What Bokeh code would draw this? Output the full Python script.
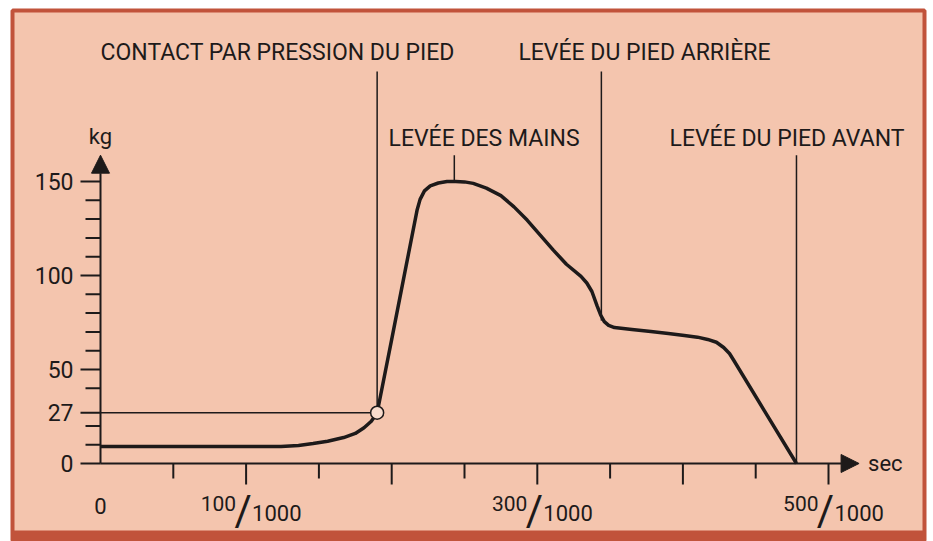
import numpy as np
from bokeh.plotting import figure
from bokeh.models import Range1d, Arrow, NormalHead, BoxAnnotation
from bokeh.core.properties import value
from bokeh.embed import file_html
from bokeh.resources import INLINE

# ---------------- data ----------------
time_ms = [0, 60, 124, 136, 146, 156, 167, 175, 181, 186, 190, 200, 210, 217.5, 219.5,
           222.5, 226.5, 232, 238, 244, 250, 256, 265, 275, 284, 293, 302, 311, 320, 330,
           334, 337.5, 341, 343.5, 346, 349, 353, 365, 378, 390, 401, 410, 417, 423, 428,
           432, 435, 456, 478]
force_kg = [9, 9, 9, 9.6, 10.6, 11.8, 13.8, 16, 19, 22.5, 27, 66, 105.5, 135, 140.5,
            145, 147.7, 149.2, 150, 150, 149.8, 149, 146.5, 142.5, 136.5, 129.5, 121.5,
            113.5, 106, 99.5, 96, 91.5, 84, 79, 75.5, 73.5, 72.3, 71.3, 70.2, 69.2, 68.1,
            67.2, 66, 64.5, 61.7, 58.5, 54.8, 28, 0]

y_major_ticks = [0, 27, 50, 100, 150]
y_major_labels = ["0", "27", "50", "100", "150"]
y_minor_ticks = [10, 20, 40, 60, 70, 80, 90, 110, 120, 130, 140]
x_major_ticks = [100, 200, 300, 400, 500]
x_minor_ticks = [50, 150, 250, 350, 450]
x_label_ticks = [100, 300, 500]
x_label_num = ["100", "300", "500"]
x_label_den = ["1000", "1000", "1000"]

event_names = ["CONTACT PAR PRESSION DU PIED", "LEVÉE DES MAINS",
               "LEVÉE DU PIED ARRIÈRE", "LEVÉE DU PIED AVANT"]
event_time = [190, 243, 344, 478]
event_kg = [27, 150, 76, 0]
contact_kg = 27

# ---------------- layout / style ----------------
BG = "#f4c5ae"
BORDER = "#c1533b"
INK = "#1d1a1a"
FONT = "Roboto"

event_line_top = [208.5, 164, 208.5, 164]
event_label_x = [0, 197.8, 287, 390.8]
event_label_y = [218.6, 172.9, 218.6, 172.9]
Y_ARROW_END = 164
X_ARROW_END = 521
BOTTOM_STRIP_TOP = -35.6

p = figure(width=933, height=541, x_range=Range1d(-60.44, 565.93),
           y_range=Range1d(-41.49, 240.96), output_backend="svg",
           toolbar_location=None, x_axis_type=None, y_axis_type=None,
           min_border_left=12, min_border_right=9,
           min_border_top=10, min_border_bottom=0,
           background_fill_color=BG, border_fill_color="white",
           outline_line_color=BORDER, outline_line_width=4)
p.grid.visible = False

p.add_layout(BoxAnnotation(top=BOTTOM_STRIP_TOP, fill_color=BORDER, fill_alpha=1,
                           line_alpha=0))

# axes with arrows
p.add_layout(Arrow(end=NormalHead(size=18, fill_color=INK, line_color=INK, line_width=1),
                   x_start=0, y_start=0, x_end=0, y_end=Y_ARROW_END,
                   line_color=INK, line_width=2))
p.add_layout(Arrow(end=NormalHead(size=18, fill_color=INK, line_color=INK, line_width=1),
                   x_start=0, y_start=0, x_end=X_ARROW_END, y_end=0,
                   line_color=INK, line_width=2))

# ticks
p.ray(x=[0] * len(y_major_ticks), y=y_major_ticks, length=20, length_units="screen",
      angle=np.pi, line_color=INK, line_width=2)
p.ray(x=[0] * len(y_minor_ticks), y=y_minor_ticks, length=15, length_units="screen",
      angle=np.pi, line_color=INK, line_width=2)
p.ray(x=x_major_ticks, y=[0] * len(x_major_ticks), length=21, length_units="screen",
      angle=-np.pi / 2, line_color=INK, line_width=2)
p.ray(x=x_minor_ticks, y=[0] * len(x_minor_ticks), length=15, length_units="screen",
      angle=-np.pi / 2, line_color=INK, line_width=2)

# tick labels
p.text(x=[0] * len(y_major_ticks), y=y_major_ticks, text=y_major_labels, x_offset=-27,
       text_align="right", text_baseline="middle", text_font=value(FONT),
       text_font_size="23px", text_color=INK)
p.text(x=[0], y=[0], text=["0"], y_offset=43, text_align="center",
       text_baseline="middle", text_font=value(FONT), text_font_size="22px", text_color=INK)
p.text(x=x_label_ticks, y=[0] * 3, text=x_label_num, x_offset=-10, y_offset=40,
       text_align="right", text_baseline="middle", text_font=value(FONT),
       text_font_size="21px", text_color=INK)
p.text(x=x_label_ticks, y=[0] * 3, text=["/"] * 3, x_offset=-3, y_offset=47,
       text_align="center", text_baseline="middle", text_font=value(FONT),
       text_font_size="42px", text_color=INK)
p.text(x=x_label_ticks, y=[0] * 3, text=x_label_den, x_offset=6, y_offset=50,
       text_align="left", text_baseline="middle", text_font=value(FONT),
       text_font_size="22px", text_color=INK)
p.text(x=[X_ARROW_END], y=[0], text=["sec"], x_offset=9, text_align="left",
       text_baseline="middle", text_font=value(FONT), text_font_size="22px", text_color=INK)
p.text(x=[0], y=[Y_ARROW_END], text=["kg"], y_offset=-19, text_align="center",
       text_baseline="middle", text_font=value(FONT), text_font_size="22px", text_color=INK)

# event marker lines
p.segment(x0=event_time, y0=event_kg, x1=event_time, y1=event_line_top,
          line_color=INK, line_width=1.5)
p.segment(x0=[0], y0=[contact_kg], x1=[event_time[0]], y1=[contact_kg],
          line_color=INK, line_width=1.5)

# curve
p.line(time_ms, force_kg, line_color=INK, line_width=3.5, line_join="round")
p.scatter([event_time[0]], [contact_kg], marker="circle", size=13, fill_color="#f8dccd",
          line_color=INK, line_width=1.5)

# event labels
p.text(x=event_label_x, y=event_label_y, text=event_names, text_align="left",
       text_baseline="middle", text_font=value(FONT), text_font_size="23px",
       text_color=INK)

open("out.html", "w").write(file_html(p, INLINE))
